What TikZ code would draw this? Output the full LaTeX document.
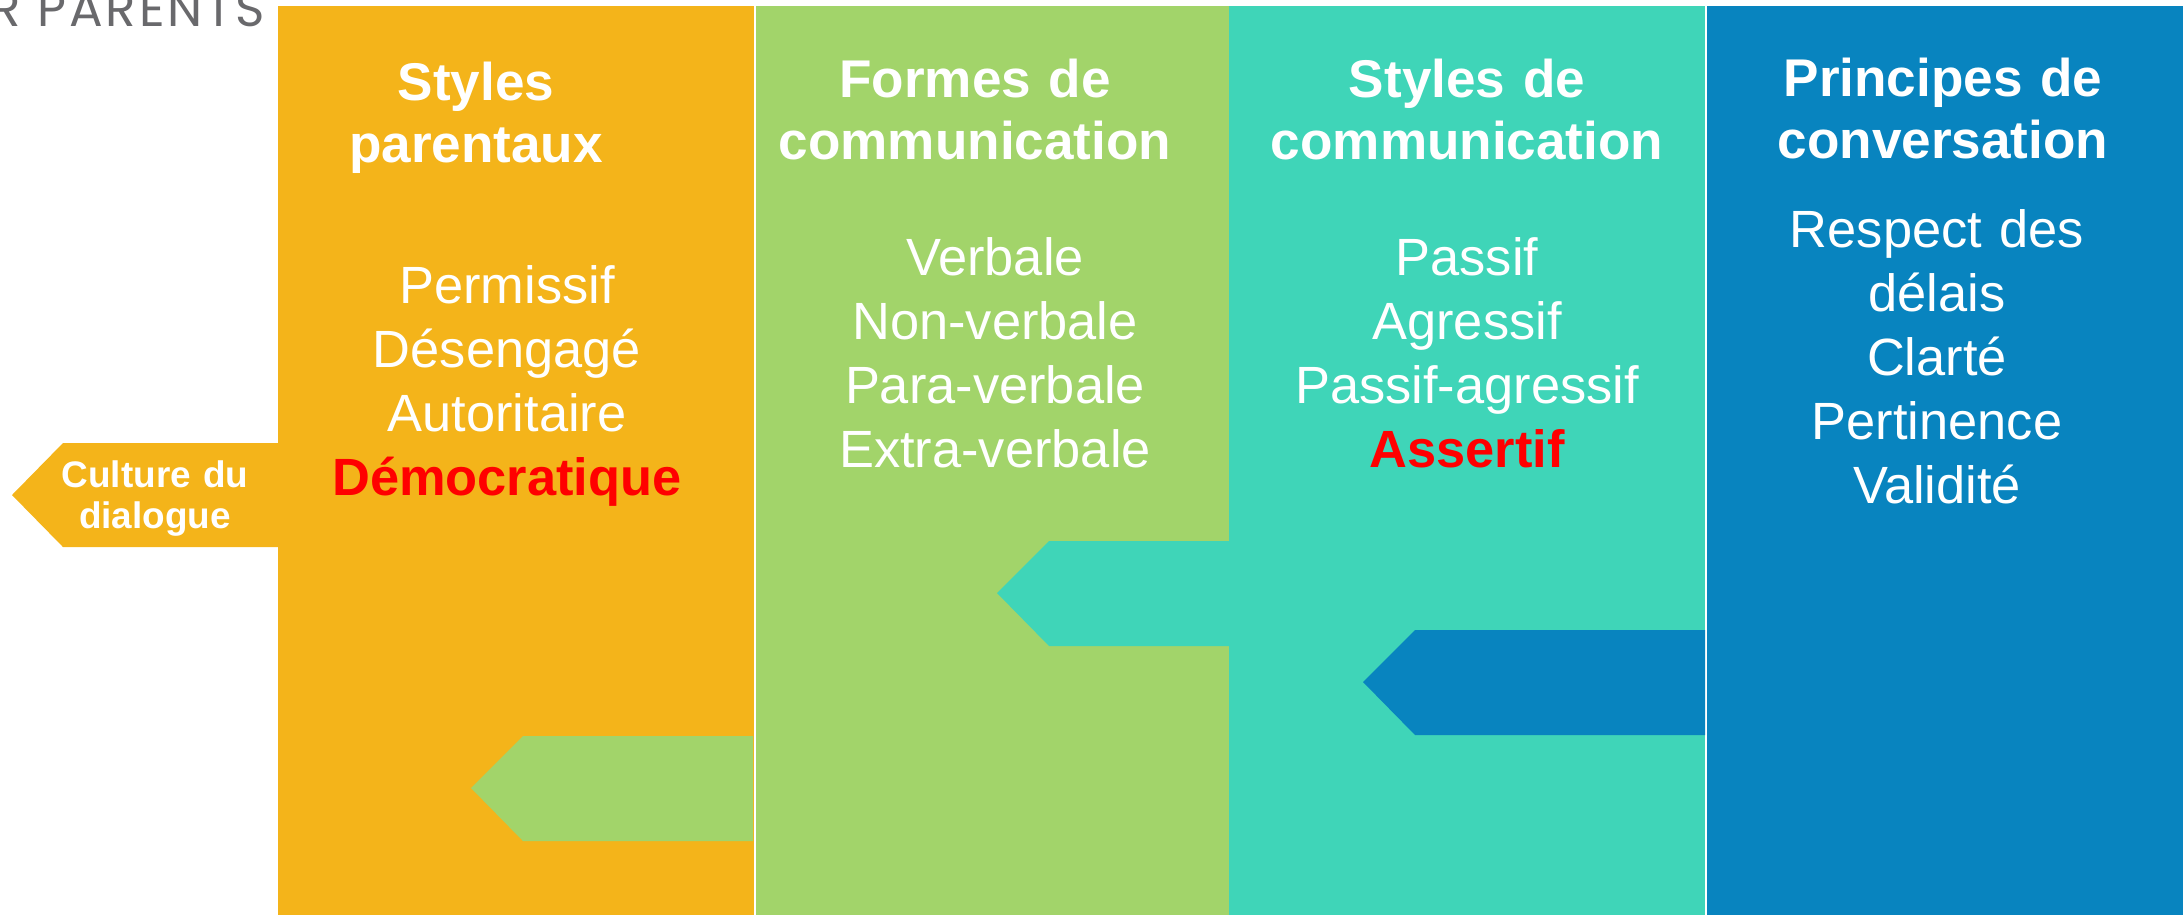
\documentclass[tikz,border=0pt]{standalone}
\usepackage{fontspec}
\setmainfont{Liberation Sans}
\newfontfamily\logofont[LetterSpace=6]{Poppins}
\definecolor{parentorange}{RGB}{244, 180, 26}
\definecolor{formgreen}{RGB}{162, 212, 106}
\definecolor{styleteal}{RGB}{63, 213, 184}
\definecolor{principblue}{RGB}{8, 132, 191}
\definecolor{logogray}{RGB}{105, 105, 108}
\usetikzlibrary{positioning}

\begin{document}
\begin{tikzpicture}[x=0.01cm, y=-0.01cm,
  col/.style={inner sep=0pt, anchor=north west, minimum height=9.09cm},
  coltitle/.style={text=white, text width=4.6cm, align=center, anchor=base, inner sep=0pt,
    font=\fontsize{15.1}{17.9}\selectfont\bfseries},
  colitems/.style={text=white, text width=4.6cm, align=center, anchor=base, inner sep=0pt,
    font=\fontsize{14.9}{18.2}\selectfont}]
  \useasboundingbox (0,0) rectangle (2183,914);
  \clip (0,0) rectangle (2183,914);

  % header left over from the slide
  \node[anchor=base east, inner sep=0pt, text=logogray, font=\logofont\fontsize{14.2}{16}\selectfont] (logo) at (266,26) {R PARENTS};

  % the four columns
  \node[col, fill=parentorange, minimum width=4.76cm] (parentaux) at (277,5) {};
  \node[col, fill=formgreen, minimum width=4.73cm] (formes) at (755,5) {};
  \node[col, fill=styleteal, minimum width=4.76cm] (styles) at (1228,5) {};
  \node[col, fill=principblue, minimum width=4.77cm] (principes) at (1706,5) {};

  % tabs
  \fill[parentorange] (12,495) -- (63,443) -- (278,443) -- (278,547) -- (63,547) -- cycle;
  \fill[formgreen] (471,788) -- (523,736) -- (753,736) -- (753,841) -- (523,841) -- cycle;
  \fill[styleteal] (997,593) -- (1049,541) -- (1229,541) -- (1229,646) -- (1049,646) -- cycle;
  \fill[principblue] (1363,682) -- (1415,630) -- (1705,630) -- (1705,735) -- (1415,735) -- cycle;

  \node[text=white, text width=2.5cm, align=center, anchor=base, inner sep=0pt,
    font=\fontsize{10.5}{11.7}\selectfont\bfseries] (culture) at (155,487) {Culture du\\dialogue};

  % titles
  \node[coltitle] (t1) at (476,100) {Styles\\parentaux};
  \node[coltitle] (t2) at (975,97) {Formes de\\communication};
  \node[coltitle] (t3) at (1467,97) {Styles de\\communication};
  \node[coltitle] (t4) at (1943,96) {Principes de\\conversation};

  % contents
  \node[colitems] (i1) at (507,303) {Permissif\\Désengagé\\Autoritaire\\{\bfseries\color{red}Démocratique}};
  \node[colitems] (i2) at (995,275) {Verbale\\Non-verbale\\Para-verbale\\Extra-verbale};
  \node[colitems] (i3) at (1467,275) {Passif\\Agressif\\Passif-agressif\\{\bfseries\color{red}Assertif}};
  \node[colitems] (i4) at (1937,247) {Respect des\\délais\\Clarté\\Pertinence\\Validité};
\end{tikzpicture}
\end{document}
